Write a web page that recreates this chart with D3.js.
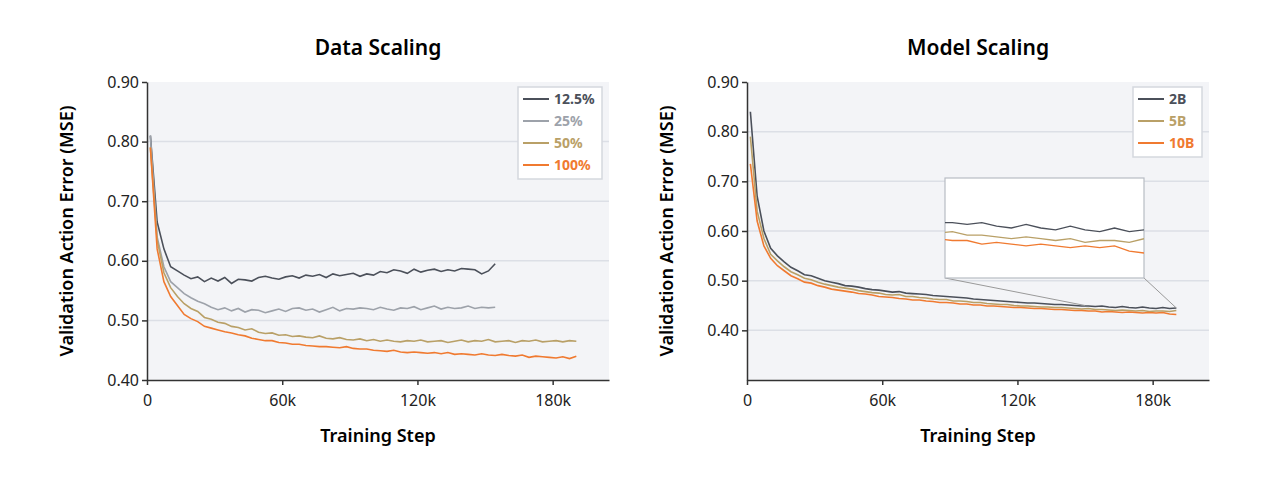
<!DOCTYPE html>
<html><head><meta charset="utf-8">
<script src="https://cdn.jsdelivr.net/npm/d3@7"></script>
<style>body{margin:0;background:#fff;font-family:"Noto Sans",sans-serif}</style>
</head><body><svg id="c" width="1266" height="480"></svg>
<script>
// steps start at 1.5k, every 3k
var stepStart = 1500, stepSize = 3000;
var xTicks = [0, 60000, 120000, 180000];

var dataNames = ["12.5%", "25%", "50%", "100%"];
var data125 = [0.81,0.665,0.62,0.59,0.583,0.576,0.57,0.573,0.565,0.571,0.566,0.572,0.562,0.569,0.568,0.566,0.572,0.574,0.571,0.569,0.573,0.575,0.571,0.576,0.574,0.577,0.572,0.578,0.575,0.577,0.579,0.574,0.578,0.576,0.582,0.58,0.585,0.583,0.579,0.586,0.581,0.584,0.586,0.582,0.585,0.583,0.587,0.586,0.585,0.578,0.583,0.595];
var data25 = [0.81,0.64,0.59,0.565,0.555,0.545,0.538,0.532,0.528,0.522,0.518,0.521,0.516,0.52,0.514,0.518,0.517,0.513,0.516,0.519,0.515,0.52,0.521,0.517,0.519,0.514,0.518,0.522,0.516,0.52,0.519,0.521,0.52,0.518,0.522,0.519,0.517,0.521,0.52,0.523,0.518,0.521,0.524,0.519,0.522,0.52,0.521,0.524,0.52,0.522,0.521,0.522];
var data50 = [0.79,0.635,0.58,0.555,0.54,0.528,0.52,0.515,0.505,0.502,0.497,0.495,0.49,0.488,0.484,0.486,0.48,0.478,0.479,0.475,0.476,0.473,0.474,0.472,0.471,0.474,0.47,0.469,0.471,0.468,0.467,0.469,0.466,0.468,0.465,0.467,0.465,0.464,0.466,0.465,0.467,0.464,0.465,0.466,0.463,0.465,0.467,0.464,0.466,0.465,0.468,0.464,0.465,0.466,0.463,0.466,0.465,0.467,0.464,0.465,0.466,0.464,0.466,0.465];
var data100 = [0.79,0.62,0.565,0.54,0.525,0.51,0.503,0.498,0.49,0.487,0.484,0.481,0.479,0.476,0.474,0.47,0.468,0.466,0.466,0.463,0.462,0.46,0.46,0.458,0.457,0.456,0.456,0.455,0.454,0.456,0.453,0.452,0.452,0.45,0.449,0.448,0.45,0.447,0.446,0.447,0.446,0.445,0.446,0.444,0.446,0.443,0.444,0.443,0.442,0.444,0.442,0.441,0.443,0.441,0.44,0.442,0.438,0.44,0.439,0.438,0.437,0.439,0.436,0.44];

var modelNames = ["2B", "5B", "10B"];
var model2 = [0.84,0.67,0.6,0.565,0.55,0.538,0.527,0.52,0.512,0.51,0.505,0.5,0.497,0.494,0.49,0.489,0.487,0.484,0.482,0.481,0.479,0.477,0.478,0.475,0.474,0.473,0.472,0.47,0.469,0.468,0.467,0.466,0.465,0.463,0.462,0.461,0.46,0.459,0.458,0.457,0.456,0.455,0.455,0.454,0.453,0.452,0.452,0.451,0.45,0.449,0.449,0.448,0.449,0.447,0.446,0.448,0.446,0.445,0.447,0.445,0.444,0.446,0.444,0.445];
var model5 = [0.79,0.64,0.585,0.553,0.54,0.528,0.518,0.512,0.505,0.502,0.497,0.493,0.49,0.487,0.485,0.483,0.48,0.478,0.476,0.475,0.472,0.471,0.472,0.468,0.468,0.466,0.465,0.463,0.462,0.462,0.459,0.459,0.458,0.456,0.456,0.454,0.453,0.452,0.452,0.45,0.449,0.449,0.448,0.447,0.447,0.446,0.446,0.445,0.444,0.443,0.444,0.442,0.442,0.441,0.44,0.441,0.44,0.439,0.44,0.438,0.439,0.439,0.438,0.44];
var model10 = [0.735,0.62,0.57,0.545,0.53,0.52,0.51,0.504,0.497,0.495,0.49,0.487,0.483,0.481,0.479,0.477,0.474,0.473,0.471,0.468,0.467,0.466,0.464,0.463,0.461,0.461,0.459,0.458,0.456,0.456,0.455,0.453,0.453,0.451,0.451,0.449,0.449,0.448,0.447,0.446,0.446,0.445,0.444,0.444,0.443,0.442,0.442,0.441,0.44,0.44,0.439,0.439,0.437,0.438,0.437,0.436,0.437,0.436,0.435,0.436,0.435,0.436,0.433,0.432];

var cDark = "#4b505a", cGrey = "#9da2aa", cGold = "#b9a067", cOrange = "#f07a30";
var svg = d3.select("#c");

function panel(o) {
  var g = svg.append("g");
  var x = d3.scaleLinear().domain([0, 205000]).range([o.left, o.left + 462]);
  var y = d3.scaleLinear().domain(o.yDomain).range([380, 82]);
  g.append("rect").attr("x", o.left).attr("y", 82).attr("width", 462).attr("height", 298).attr("fill", "#f3f4f7");
  g.selectAll(".grid").data(o.grid).join("line")
    .attr("x1", o.left).attr("x2", o.left + 462).attr("y1", d => y(d)).attr("y2", d => y(d))
    .attr("stroke", "#dcdfe6").attr("stroke-width", 1.5);
  var ya = g.append("g").attr("transform", "translate(" + o.left + ",0)")
    .call(d3.axisLeft(y).tickValues(o.yTicks).tickFormat(d3.format(".2f")).tickSize(5).tickSizeOuter(0));
  var xa = g.append("g").attr("transform", "translate(0,380)")
    .call(d3.axisBottom(x).tickValues(xTicks).tickFormat(d => d === 0 ? "0" : (d / 1000) + "k").tickSize(5).tickSizeOuter(0));
  [ya, xa].forEach(a => {
    a.selectAll("text").attr("font-size", 16).attr("fill", "#222").attr("font-family", "Noto Sans");
    a.selectAll("line,path").attr("stroke", "#333").attr("stroke-width", 1.5);
  });
  xa.selectAll("text").attr("dy", "1.1em");
  g.append("text").attr("x", o.left + 231).attr("y", 55).attr("text-anchor", "middle")
    .attr("font-size", 21).attr("font-weight", 600).text(o.title);
  g.append("text").attr("x", o.left + 231).attr("y", 442).attr("text-anchor", "middle")
    .attr("font-size", 18).attr("font-weight", 600).text("Training Step");
  g.append("text").attr("transform", "translate(" + (o.left - 74) + ",231) rotate(-90)").attr("text-anchor", "middle")
    .attr("font-size", 18).attr("font-weight", 600).text("Validation Action Error (MSE)");
  var line = d3.line().x((d, i) => x(stepStart + i * stepSize)).y(d => y(d));
  o.series.forEach(s => {
    g.append("path").datum(s.values).attr("d", line).attr("fill", "none").attr("stroke", s.color).attr("stroke-width", 1.6);
  });
  // legend
  var lg = g.append("g").attr("transform", "translate(" + o.legX + ",87)");
  lg.append("rect").attr("width", o.legW).attr("height", o.series.length * 22 + 4).attr("fill", "#fff").attr("stroke", "#d5d8de").attr("stroke-width", 1.5);
  o.series.forEach((s, i) => {
    lg.append("line").attr("x1", 5).attr("x2", 31).attr("y1", 12 + i * 22).attr("y2", 12 + i * 22).attr("stroke", s.color).attr("stroke-width", 2);
    lg.append("text").attr("x", 36).attr("y", 17 + i * 22).attr("font-size", 14).attr("font-weight", "bold").attr("fill", s.color).text(s.name);
  });
  return {g: g, x: x, y: y};
}

panel({left: 147, title: "Data Scaling", yDomain: [0.4, 0.9], grid: [0.5, 0.6, 0.7, 0.8], yTicks: [0.4, 0.5, 0.6, 0.7, 0.8, 0.9], legX: 518, legW: 84,
  series: [{name: dataNames[0], values: data125, color: cDark}, {name: dataNames[1], values: data25, color: cGrey},
           {name: dataNames[2], values: data50, color: cGold}, {name: dataNames[3], values: data100, color: cOrange}]});

var modelSeries = [{name: modelNames[0], values: model2, color: cDark}, {name: modelNames[1], values: model5, color: cGold}, {name: modelNames[2], values: model10, color: cOrange}];
var p = panel({left: 747, title: "Model Scaling", yDomain: [0.3, 0.9], grid: [0.4, 0.5, 0.6, 0.7, 0.8], yTicks: [0.4, 0.5, 0.6, 0.7, 0.8, 0.9], legX: 1133, legW: 69,
  series: modelSeries});

// zoomed inset
var ix0 = 945, ix1 = 1144, iy0 = 178, iy1 = 278;
var xi = d3.scaleLinear().domain([150000, 190500]).range([ix0, ix1]);
var yi = d3.scaleLinear().domain([0.418, 0.474]).range([iy1, iy0]);
p.g.append("line").attr("x1", ix0).attr("y1", iy1).attr("x2", p.x(150000)).attr("y2", p.y(0.45)).attr("stroke", "#999").attr("stroke-width", 1);
p.g.append("line").attr("x1", ix1).attr("y1", iy1).attr("x2", p.x(190500)).attr("y2", p.y(0.445)).attr("stroke", "#999").attr("stroke-width", 1);
p.g.append("clipPath").attr("id", "ic").append("rect").attr("x", ix0).attr("y", iy0).attr("width", ix1 - ix0).attr("height", iy1 - iy0);
p.g.append("rect").attr("x", ix0).attr("y", iy0).attr("width", ix1 - ix0).attr("height", iy1 - iy0).attr("fill", "#fff").attr("stroke", "#b8bcc4").attr("stroke-width", 1.2);
var iline = d3.line().x((d, i) => xi(stepStart + i * stepSize)).y(d => yi(d));
modelSeries.forEach(s => {
  p.g.append("path").datum(s.values).attr("d", iline).attr("clip-path", "url(#ic)").attr("fill", "none").attr("stroke", s.color).attr("stroke-width", 1.3);
});
</script></body></html>
